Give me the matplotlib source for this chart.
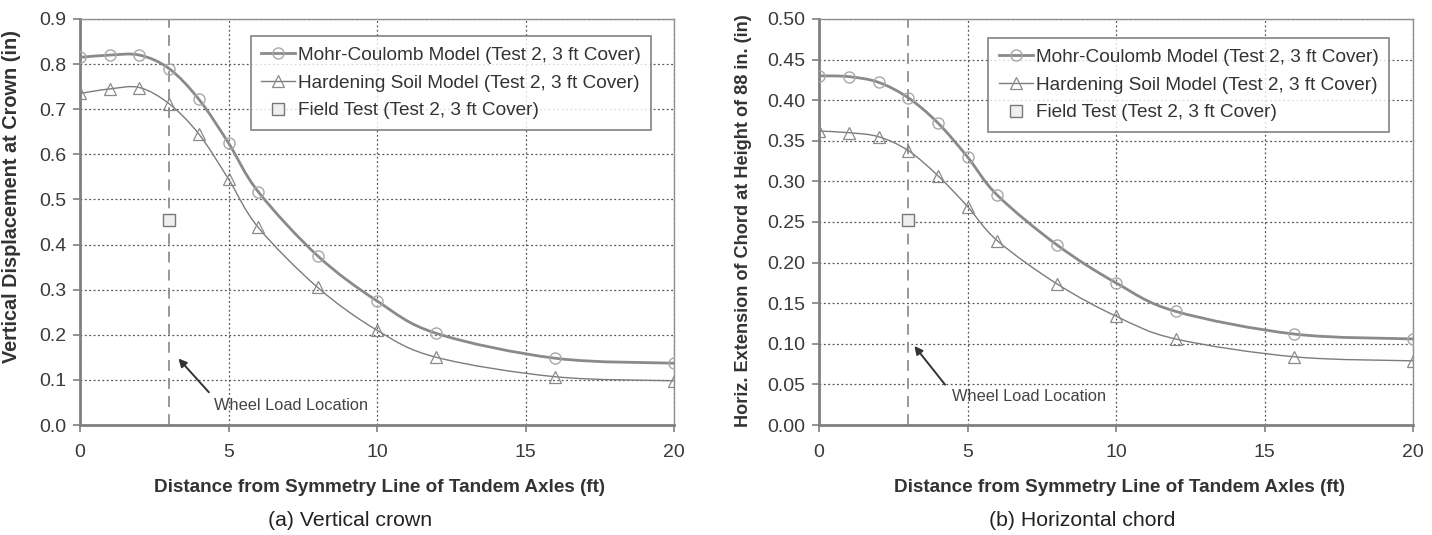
import matplotlib.pyplot as plt
from matplotlib.path import Path
from matplotlib.patches import PathPatch
from matplotlib.lines import Line2D

plt.rcParams['font.family'] = ['Liberation Sans', 'DejaVu Sans']

# distance from symmetry line (ft)
dist = [0, 1, 2, 3, 4, 5, 6, 8, 10, 12, 16, 20]

# (a) vertical displacement at crown (in)
crown_mc = [0.815, 0.82, 0.82, 0.79, 0.722, 0.625, 0.517, 0.375, 0.275, 0.203, 0.148, 0.137]
crown_hs = [0.735, 0.745, 0.748, 0.712, 0.645, 0.545, 0.438, 0.305, 0.21, 0.15, 0.107, 0.098]
crown_field_x = [3]
crown_field = [0.455]

# (b) horizontal extension of chord (in)
chord_mc = [0.43, 0.429, 0.422, 0.403, 0.372, 0.33, 0.283, 0.222, 0.175, 0.14, 0.112, 0.106]
chord_hs = [0.362, 0.36, 0.355, 0.338, 0.307, 0.269, 0.227, 0.174, 0.134, 0.106, 0.084, 0.079]
chord_field_x = [3]
chord_field = [0.252]

wheel_x = 3

labels = ['Mohr-Coulomb Model (Test 2, 3 ft Cover)',
          'Hardening Soil Model (Test 2, 3 ft Cover)',
          'Field Test (Test 2, 3 ft Cover)']


def smooth_path(x, y):
    # excel-style smoothed line: cubic bezier through the data points
    verts = [(x[0], y[0])]
    codes = [Path.MOVETO]
    n = len(x)
    for i in range(n - 1):
        x0, y0 = (x[i - 1], y[i - 1]) if i > 0 else (x[i], y[i])
        x3, y3 = (x[i + 2], y[i + 2]) if i + 2 < n else (x[i + 1], y[i + 1])
        c1 = (x[i] + (x[i + 1] - x0) / 6, y[i] + (y[i + 1] - y0) / 6)
        c2 = (x[i + 1] - (x3 - x[i]) / 6, y[i + 1] - (y3 - y[i]) / 6)
        verts += [c1, c2, (x[i + 1], y[i + 1])]
        codes += [Path.CURVE4] * 3
    return Path(verts, codes)


mc_style = dict(color='#8a8a8a', lw=2.0)
hs_style = dict(color='#7c7c7c', lw=1.0)
mc_mark = dict(marker='o', ms=8, mfc='none', mec='#a8a8a8', mew=1.0)
hs_mark = dict(marker='^', ms=8, mfc='none', mec='#8a8a8a', mew=0.9)
fd_mark = dict(marker='s', ms=8.5, mfc='#efefef', mec='#777777', mew=1.0)

fig = plt.figure(figsize=(14.32, 5.35), dpi=100)
ax1 = fig.add_axes([0.0559, 0.2056, 0.4148, 0.7589])
ax2 = fig.add_axes([0.572, 0.2056, 0.4148, 0.7589])


def draw(ax, mc, hs, fx, fy, ymax, ystep, fmt, ylabel, ylab_fs, ylab_xy,
         txt_xy, arr_tail, arr_head, leg_box):
    ax.add_patch(PathPatch(smooth_path(dist, mc), fill=False, zorder=3, **mc_style))
    ax.add_patch(PathPatch(smooth_path(dist, hs), fill=False, zorder=3, **hs_style))
    ax.plot(dist, mc, ls='none', zorder=4, **mc_mark)
    ax.plot(dist, hs, ls='none', zorder=4, **hs_mark)
    ax.plot(fx, fy, ls='none', zorder=4, **fd_mark)
    ax.axvline(wheel_x, color='#909090', lw=1.3, ls=(0, (6, 4)), zorder=2)
    ax.set_xlim(0, 20)
    ax.set_ylim(0, ymax)
    ax.set_xticks([0, 5, 10, 15, 20])
    n = int(round(ymax / ystep))
    ax.set_yticks([i * ystep for i in range(n + 1)])
    ax.set_yticklabels([fmt.format(i * ystep) for i in range(n + 1)])
    ax.grid(True, color='#555555', ls=(0, (1.5, 2)), lw=0.9)
    ax.set_axisbelow(True)
    for s in ['top', 'right']:
        ax.spines[s].set_color('#909090')
        ax.spines[s].set_linewidth(1.0)
    for s in ['left', 'bottom']:
        ax.spines[s].set_color('#808080')
        ax.spines[s].set_linewidth(2.0)
    ax.tick_params(axis='both', labelsize=14, labelcolor='#3a3a3a', color='#808080',
                   length=5, width=1.2, pad=5)
    ax.tick_params(axis='x', pad=9)
    ax.set_xlabel('Distance from Symmetry Line of Tandem Axles (ft)', fontsize=13.6,
                  fontweight='bold', color='#333333')
    ax.xaxis.set_label_coords(0.505, -0.133)
    ax.set_ylabel(ylabel, fontsize=ylab_fs, fontweight='bold', color='#333333')
    ax.yaxis.set_label_coords(*ylab_xy)
    ax.annotate('', xy=arr_head, xytext=arr_tail,
                arrowprops=dict(arrowstyle='-|>', color='#333333', lw=1.4,
                                mutation_scale=12))
    ax.text(txt_xy[0], txt_xy[1], 'Wheel Load Location', fontsize=11.8,
            color='#444444', va='center', ha='left')
    handles = [Line2D([], [], **mc_style, **mc_mark),
               Line2D([], [], **hs_style, **hs_mark),
               Line2D([], [], ls='none', **fd_mark)]
    leg = ax.legend(handles, labels, loc='upper left', bbox_to_anchor=leg_box,
                    fontsize=13.7, frameon=True, fancybox=False, edgecolor='#707070',
                    handlelength=1.8, handletextpad=0.15, borderpad=0.55,
                    labelspacing=0.55, borderaxespad=0)
    leg.get_frame().set_linewidth(1.3)
    for t in leg.get_texts():
        t.set_color('#333333')


draw(ax1, crown_mc, crown_hs, crown_field_x, crown_field, 0.9, 0.1, '{:.1f}',
     'Vertical Displacement at Crown (in)', 14.3, (-0.099, 0.5616),
     (4.5, 0.044), (4.4, 0.068), (3.25, 0.152), (0.287, 0.958))
draw(ax2, chord_mc, chord_hs, chord_field_x, chord_field, 0.5, 0.05, '{:.2f}',
     'Horiz. Extension of Chord at Height of 88 in. (in)', 13.1, (-0.1128, 0.5025),
     (4.48, 0.0345), (4.3, 0.047), (3.15, 0.1), (0.285, 0.953))

fig.text(0.2448, 0.027, '(a) Vertical crown', ha='center', va='center', fontsize=15.3,
         color='#222222')
fig.text(0.7556, 0.027, '(b) Horizontal chord', ha='center', va='center', fontsize=15.3,
         color='#222222')

fig.savefig('out.png', dpi=100)
